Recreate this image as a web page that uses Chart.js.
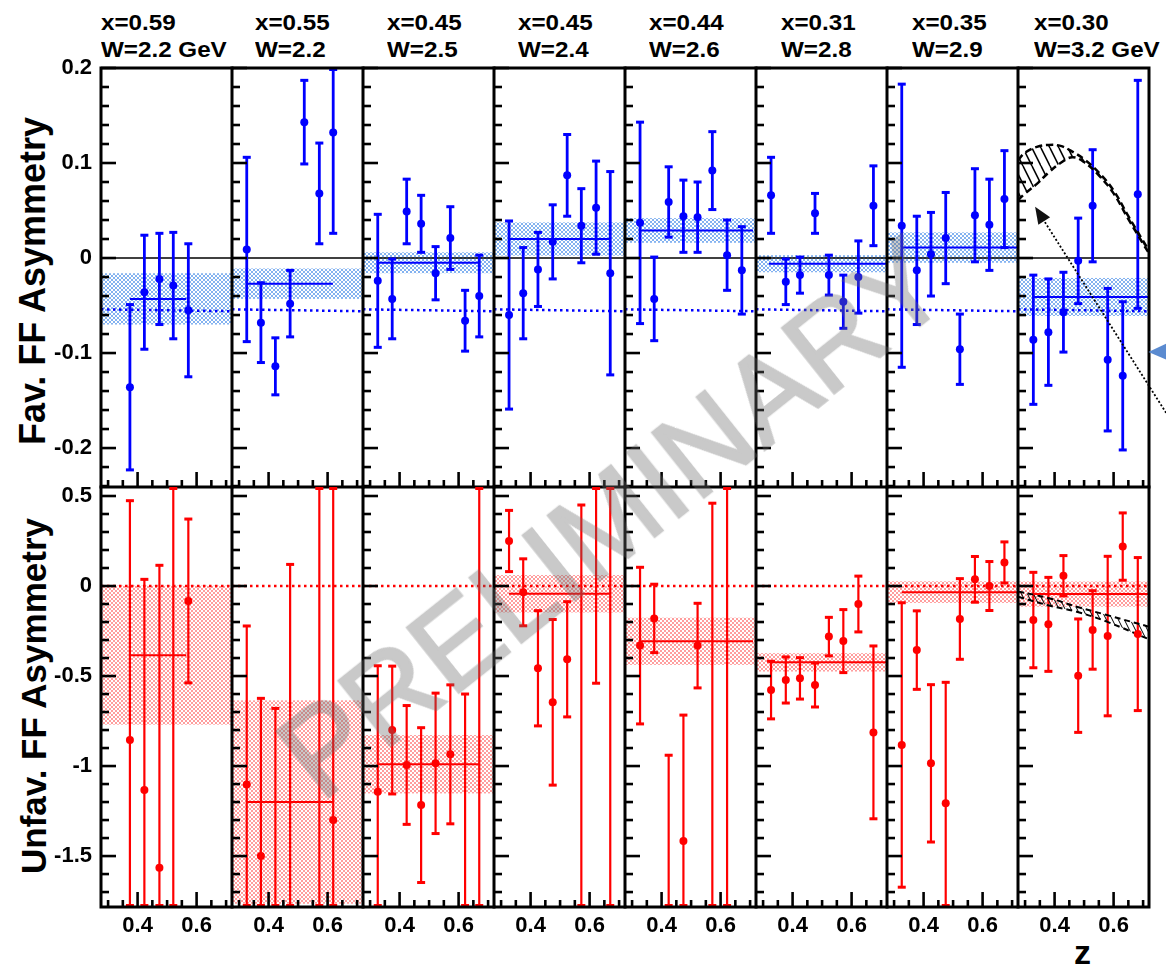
<!DOCTYPE html>
<html>
<head>
<meta charset="utf-8">
<title>Fav / Unfav FF Asymmetry</title>
<script src="https://cdn.jsdelivr.net/npm/chart.js@4.4.1/dist/chart.umd.min.js"></script>
<style>
  html,body{margin:0;padding:0;background:#fff;}
  body{position:relative;width:1166px;height:964px;overflow:hidden;font-family:"Liberation Sans",Arial,Helvetica,sans-serif;}
  canvas{position:absolute;display:block;}
  .hdr{position:absolute;font-weight:bold;font-size:22px;line-height:27px;white-space:nowrap;color:#000;transform:scaleX(1.1);transform-origin:0 0;}
  .ytitle{position:absolute;font-weight:bold;white-space:nowrap;line-height:1;color:#000;transform:translate(-50%,-50%) rotate(-90deg);}
  #ztitle{position:absolute;font-weight:bold;font-size:34px;line-height:1;color:#000;}
  #wm{position:absolute;font-size:120px;line-height:1;white-space:nowrap;color:rgb(105,105,105);-webkit-text-stroke:2.5px rgb(105,105,105);opacity:0.36;transform:translate(-50%,-50%) rotate(-38.5deg);z-index:10;pointer-events:none;}
</style>
</head>
<body>
<script>
// ---------------- data ----------------
const headerX = ['x=0.59','x=0.55','x=0.45','x=0.45','x=0.44','x=0.31','x=0.35','x=0.30'];
const headerW = ['W=2.2 GeV','W=2.2','W=2.5','W=2.4','W=2.6','W=2.8','W=2.9','W=3.2 GeV'];

const zRange = [0.276, 0.72];
const favRange = [-0.241, 0.2];
const unfRange = [-1.783, 0.55];
const zTicks = [0.4, 0.6];
const zTickLabels = ['0.4', '0.6'];
const favTicks = [-0.2, -0.1, 0, 0.1, 0.2];
const favTickLabels = ['-0.2', '-0.1', '0', '0.1', '0.2'];
const unfTicks = [-1.5, -1, -0.5, 0, 0.5];
const unfTickLabels = ['-1.5', '-1', '-0.5', '0', '0.5'];
const zMinorStep = 0.05, favMinorStep = 0.02, unfMinorStep = 0.1;

// favoured asymmetry (top row)
const favZ = [
  [0.374, 0.423, 0.474, 0.521, 0.572],
  [0.326, 0.374, 0.423, 0.473, 0.521, 0.572, 0.619],
  [0.326, 0.375, 0.424, 0.473, 0.522, 0.572, 0.622, 0.670],
  [0.327, 0.375, 0.425, 0.475, 0.524, 0.572, 0.622, 0.670],
  [0.327, 0.375, 0.424, 0.474, 0.522, 0.572, 0.622, 0.672],
  [0.327, 0.377, 0.425, 0.476, 0.523, 0.572, 0.623, 0.674],
  [0.326, 0.377, 0.425, 0.475, 0.523, 0.574, 0.623, 0.674],
  [0.328, 0.379, 0.430, 0.480, 0.529, 0.580, 0.631, 0.682]
];
const favVal = [
  [-0.136, -0.036, -0.022, -0.029, -0.055],
  [0.009, -0.068, -0.114, -0.048, 0.143, 0.068, 0.132],
  [-0.024, -0.043, 0.049, 0.036, -0.016, 0.021, -0.066, -0.040],
  [-0.060, -0.037, -0.012, 0.017, 0.087, 0.034, 0.053, -0.016],
  [0.037, -0.043, 0.059, 0.044, 0.043, 0.092, 0.003, -0.013],
  [0.066, -0.025, -0.018, 0.047, -0.018, -0.046, -0.020, 0.055],
  [0.034, -0.013, 0.004, 0.021, -0.096, 0.045, 0.035, 0.062],
  [-0.086, -0.078, -0.057, -0.003, 0.055, -0.107, -0.124, 0.067]
];
const favErr = [
  [0.087, 0.060, 0.048, 0.056, 0.070],
  [0.097, 0.042, 0.030, 0.035, 0.044, 0.053, 0.106],
  [0.070, 0.042, 0.034, 0.030, 0.028, 0.033, 0.032, 0.043],
  [0.099, 0.048, 0.039, 0.039, 0.043, 0.039, 0.049, 0.107],
  [0.106, 0.044, 0.037, 0.038, 0.037, 0.041, 0.037, 0.046],
  [0.040, 0.024, 0.019, 0.021, 0.021, 0.028, 0.038, 0.042],
  [0.149, 0.057, 0.044, 0.048, 0.037, 0.049, 0.048, 0.051],
  [0.068, 0.056, 0.042, 0.045, 0.059, 0.075, 0.078, 0.120]
];
// unfavoured asymmetry (bottom row)
const unfZ = [
  [0.374, 0.423, 0.474, 0.521, 0.572],
  [0.326, 0.374, 0.423, 0.473, 0.572, 0.619],
  [0.326, 0.375, 0.424, 0.473, 0.522, 0.572, 0.622, 0.670],
  [0.327, 0.375, 0.425, 0.475, 0.524, 0.572, 0.622, 0.670],
  [0.327, 0.375, 0.424, 0.474, 0.522, 0.572, 0.622],
  [0.327, 0.377, 0.425, 0.476, 0.523, 0.572, 0.623, 0.674],
  [0.326, 0.377, 0.425, 0.475, 0.523, 0.574, 0.623, 0.674],
  [0.328, 0.379, 0.430, 0.480, 0.529, 0.580, 0.631, 0.682]
];
const unfVal = [
  [-0.856, -1.133, -1.565, -2.10, -0.083],
  [-1.102, -1.500, -2.00, -1.95, -2.20, -1.30],
  [-1.143, -0.800, -0.994, -1.217, -0.985, -0.935, -1.95, -2.30],
  [0.250, -0.035, -0.457, -0.646, -0.407, -1.90, 0.80, -2.00],
  [-0.331, -0.180, -2.00, -1.417, -0.331, -1.90, -2.00],
  [-0.578, -0.522, -0.513, -0.550, -0.281, -0.306, -0.100, -0.813],
  [-0.883, -0.356, -0.985, -1.207, -0.183, 0.037, 0.000, 0.131],
  [-0.189, -0.213, 0.057, -0.498, -0.244, -0.278, 0.219, -0.267]
];
const unfErr = [
  [1.33, 1.17, 1.68, 2.90, 0.455],
  [0.88, 0.876, 1.32, 2.07, 3.00, 2.00],
  [0.70, 0.355, 0.33, 0.43, 0.39, 0.386, 1.35, 3.00],
  [0.17, 0.186, 0.32, 0.46, 0.32, 2.35, 1.34, 3.00],
  [0.435, 0.19, 1.06, 0.70, 0.235, 2.36, 3.00],
  [0.16, 0.128, 0.115, 0.122, 0.107, 0.175, 0.155, 0.48],
  [0.79, 0.218, 0.437, 0.672, 0.224, 0.127, 0.136, 0.114],
  [0.265, 0.261, 0.112, 0.315, 0.218, 0.443, 0.187, 0.425]
];
// constant fits and their uncertainty bands
const favFit = [-0.043, -0.027, -0.005, 0.020, 0.029, -0.006, 0.011, -0.041];
const favFitErr = [0.027, 0.016, 0.011, 0.0175, 0.013, 0.009, 0.016, 0.020];
const unfFit = [-0.384, -1.200, -0.990, -0.043, -0.307, -0.424, -0.034, -0.045];
const unfFitErr = [0.386, 0.565, 0.162, 0.104, 0.131, 0.051, 0.060, 0.070];
const fitLo = [0.374, 0.326, 0.326, 0.327, 0.327, 0.320, 0.326, 0.328];
const fitHi = [0.565, 0.618, 0.670, 0.670, 0.710, 0.720, 0.720, 0.720];
// model lines (values at the two ends of the z range)
const favModel = [-0.054, -0.056];
const unfModel = [0, 0];
// model curves drawn in the last column
const favCurveZ  = [0.276, 0.30, 0.34, 0.38, 0.42, 0.46, 0.50, 0.55, 0.60, 0.65, 0.70, 0.72];
const favCurveHi = [0.103, 0.111, 0.117, 0.119, 0.118, 0.112, 0.104, 0.090, 0.071, 0.044, 0.018, 0.008];
const favCurveLo = [0.061, 0.068, 0.078, 0.090, 0.100, 0.106, 0.101, 0.087, 0.068, 0.041, 0.015, 0.005];
const unfCurveZ  = [0.276, 0.385, 0.475, 0.577, 0.72];
const unfCurveHi = [-0.030, -0.069, -0.115, -0.161, -0.226];
const unfCurveLo = [-0.060, -0.110, -0.143, -0.198, -0.296];
// annotation arrows in the last column (z, asymmetry)
const arrowTail = [0.778, -0.163];
const arrowHead = [0.334, 0.054];
const blueArrowTip = [0.718, -0.099];

// ---------------- layout ----------------
const FONT = '"Liberation Sans", Arial, Helvetica, sans-serif';
const colLeft = [101, 232, 363, 494, 625, 756, 887, 1018];
const panelW = 131;
const rowTop = [68, 487], rowBottom = [487, 907];
const headerOffset = [0, 23, 24, 24, 24, 25, 25, 16];
const BLUE = '#0000ff', RED = '#ff0000';

headerX.forEach((t, c) => {
  const d = document.createElement('div');
  d.className = 'hdr';
  d.style.left = (colLeft[c] + headerOffset[c]) + 'px';
  d.style.top = '9px';
  d.innerHTML = t + '<br>' + headerW[c];
  document.body.appendChild(d);
});
function addYTitle(text, cx, cy, size) {
  const d = document.createElement('div');
  d.className = 'ytitle';
  d.style.fontSize = size + 'px';
  d.style.left = cx + 'px'; d.style.top = cy + 'px';
  d.textContent = text;
  document.body.appendChild(d);
}
addYTitle('Fav. FF Asymmetry', 33, 281, 36);
addYTitle('Unfav. FF Asymmetry', 33, 696, 35);
const zt = document.createElement('div');
zt.id = 'ztitle'; zt.textContent = 'z';
zt.style.left = '1074px'; zt.style.top = '935px';
document.body.appendChild(zt);

function makeCross(ctx, color) {
  const p = document.createElement('canvas'); p.width = 4; p.height = 4;
  const g = p.getContext('2d'); g.fillStyle = color;
  for (let i = 0; i < 4; i++) { g.fillRect(i, i, 1, 1); g.fillRect(3 - i, i, 1, 1); }
  return ctx.createPattern(p, 'repeat');
}
function makeHatch(ctx, w, h, lw) {
  const p = document.createElement('canvas'); p.width = w; p.height = h;
  const g = p.getContext('2d'); g.strokeStyle = '#000'; g.lineWidth = lw;
  for (const dx of [-w, 0, w]) { g.beginPath(); g.moveTo(dx, 0); g.lineTo(dx + w, h); g.stroke(); }
  return ctx.createPattern(p, 'repeat');
}

const panelPlugin = {
  id: 'panel',
  beforeDatasetsDraw(chart) {
    const o = chart.options.plugins.panel;
    const { ctx, chartArea: a } = chart;
    const x = chart.scales.x, y = chart.scales.y;
    ctx.save();
    ctx.beginPath(); ctx.rect(a.left, a.top, a.right - a.left, a.bottom - a.top); ctx.clip();
    // band
    const y1 = y.getPixelForValue(o.fit + o.fitErr), y2 = y.getPixelForValue(o.fit - o.fitErr);
    ctx.fillStyle = o.bandPattern;
    ctx.fillRect(a.left, y1, a.right - a.left, y2 - y1);
    // zero line
    if (o.zeroLine) {
      const y0 = y.getPixelForValue(0);
      ctx.strokeStyle = '#000'; ctx.lineWidth = 1.6;
      ctx.beginPath(); ctx.moveTo(a.left, y0); ctx.lineTo(a.right, y0); ctx.stroke();
    }
    // error bars
    ctx.strokeStyle = o.color; ctx.fillStyle = o.color; ctx.lineWidth = o.barWidth;
    o.z.forEach((zv, i) => {
      const hi = o.v[i] + o.e[i], lo = o.v[i] - o.e[i];
      if (hi < y.min || lo > y.max) return;
      const hc = Math.min(hi, y.max), lc = Math.max(lo, y.min);
      const px = x.getPixelForValue(zv);
      const pyh = y.getPixelForValue(hc), pyl = y.getPixelForValue(lc);
      ctx.beginPath(); ctx.moveTo(px, pyh); ctx.lineTo(px, pyl); ctx.stroke();
      const cw = 8, ct = 3;
      let ch = Math.max(pyh - ct / 2, a.top);
      ctx.fillRect(px - cw / 2, ch, cw, ct);
      let cl = Math.min(pyl - ct / 2, a.bottom - ct);
      ctx.fillRect(px - cw / 2, cl, cw, ct);
    });
    ctx.restore();
  },
  afterDraw(chart) {
    const o = chart.options.plugins.panel;
    const { ctx, chartArea: a } = chart;
    const x = chart.scales.x, y = chart.scales.y;
    ctx.save();
    ctx.strokeStyle = '#000'; ctx.fillStyle = '#000'; ctx.lineCap = 'butt';
    ctx.lineWidth = 2.6;
    // y ticks (inside, on the left edge)
    for (let k = Math.ceil(y.min / o.yMinor - 1e-6); k * o.yMinor <= y.max + 1e-9; k++) {
      const v = k * o.yMinor;
      const major = o.yTicks.some(t => Math.abs(t - v) < 1e-6);
      const py = y.getPixelForValue(v);
      ctx.beginPath(); ctx.moveTo(a.left, py); ctx.lineTo(a.left + (major ? 15 : 8), py); ctx.stroke();
    }
    // x ticks (inside, on the bottom edge)
    for (let k = Math.ceil(x.min / zMinorStep - 1e-6); k * zMinorStep <= x.max + 1e-9; k++) {
      const v = k * zMinorStep;
      const major = zTicks.some(t => Math.abs(t - v) < 1e-6);
      const px = x.getPixelForValue(v);
      ctx.beginPath(); ctx.moveTo(px, a.bottom); ctx.lineTo(px, a.bottom - (major ? 15 : 7)); ctx.stroke();
    }
    // frame
    ctx.lineWidth = 3;
    ctx.beginPath();
    ctx.moveTo(a.left, a.top - 1.5); ctx.lineTo(a.left, a.bottom + 1.5);
    ctx.moveTo(a.left - 1.5, a.bottom); ctx.lineTo(a.right + 1.5, a.bottom);
    if (o.row === 0) { ctx.moveTo(a.left - 1.5, a.top); ctx.lineTo(a.right + 1.5, a.top); }
    if (o.col === 7) { ctx.moveTo(a.right, a.top - 1.5); ctx.lineTo(a.right, a.bottom + 1.5); }
    ctx.stroke();
    // annotation arrows
    if (o.arrows) {
      const tx = x.getPixelForValue(arrowTail[0]), ty = y.getPixelForValue(arrowTail[1]);
      const hx = x.getPixelForValue(arrowHead[0]), hy = y.getPixelForValue(arrowHead[1]);
      const dx = hx - tx, dy = hy - ty, len = Math.hypot(dx, dy), ux = dx / len, uy = dy / len;
      ctx.setLineDash([2, 2]); ctx.lineWidth = 1.8;
      ctx.beginPath(); ctx.moveTo(tx, ty); ctx.lineTo(hx - ux * 12, hy - uy * 12); ctx.stroke();
      ctx.setLineDash([]);
      ctx.fillStyle = '#111';
      ctx.beginPath(); ctx.moveTo(hx, hy);
      ctx.lineTo(hx - ux * 17 - uy * 7, hy - uy * 17 + ux * 7);
      ctx.lineTo(hx - ux * 17 + uy * 7, hy - uy * 17 - ux * 7);
      ctx.closePath(); ctx.fill();
      const bx = x.getPixelForValue(blueArrowTip[0]), by = y.getPixelForValue(blueArrowTip[1]);
      ctx.fillStyle = '#5b8bd0';
      ctx.beginPath(); ctx.moveTo(bx, by); ctx.lineTo(bx + 19, by - 9); ctx.lineTo(bx + 19, by + 8); ctx.closePath(); ctx.fill();
    }
    ctx.restore();
  }
};

function zeroPad(s) { s.paddingTop = 0; s.paddingBottom = 0; s.paddingLeft = 0; s.paddingRight = 0; }

function makePanel(r, c) {
  const L = colLeft[c], R = L + panelW, T = rowTop[r], B = rowBottom[r];
  const cx0 = c === 0 ? 0 : L - 4;
  const cx1 = c === 7 ? 1166 : R + 4;
  const cy0 = r === 0 ? 40 : T - 4;
  const cy1 = r === 0 ? B + 4 : 964;
  const cv = document.createElement('canvas');
  cv.width = cx1 - cx0; cv.height = cy1 - cy0;
  cv.style.left = cx0 + 'px'; cv.style.top = cy0 + 'px';
  cv.style.width = (cx1 - cx0) + 'px'; cv.style.height = (cy1 - cy0) + 'px';
  document.body.appendChild(cv);
  const ctx = cv.getContext('2d');
  const top = r === 0;
  const color = top ? BLUE : RED;
  const Z = top ? favZ[c] : unfZ[c], V = top ? favVal[c] : unfVal[c], E = top ? favErr[c] : unfErr[c];
  const fit = top ? favFit[c] : unfFit[c], fitErr = top ? favFitErr[c] : unfFitErr[c];
  const model = top ? favModel : unfModel;
  const range = top ? favRange : unfRange;
  const yT = top ? favTicks : unfTicks, yL = top ? favTickLabels : unfTickLabels;
  const showX = r === 1, showY = c === 0;

  const datasets = [
    { type: 'line', data: [{ x: zRange[0], y: model[0] }, { x: zRange[1], y: model[1] }],
      borderColor: color, borderWidth: 2.5, borderDash: [2.5, 3.5], pointRadius: 0, fill: false },
    { type: 'line', data: [{ x: fitLo[c], y: fit }, { x: fitHi[c], y: fit }],
      borderColor: color, borderWidth: 2, pointRadius: 0, fill: false },
    { type: 'scatter', data: Z.map((z, i) => ({ x: z, y: V[i] })),
      pointRadius: 4, pointBackgroundColor: color, pointBorderWidth: 0, showLine: false }
  ];
  if (c === 7) {
    const cz = top ? favCurveZ : unfCurveZ, lo = top ? favCurveLo : unfCurveLo, hi = top ? favCurveHi : unfCurveHi;
    const hatch = top ? makeHatch(ctx, 9, 18, 1.6) : makeHatch(ctx, 6, 12, 1);
    datasets.push({ type: 'line', data: cz.map((z, i) => ({ x: z, y: lo[i] })), borderColor: '#000',
      borderWidth: top ? 2.5 : 2, borderDash: top ? [7, 4] : [6, 4], pointRadius: 0, tension: 0.4, fill: false });
    datasets.push({ type: 'line', data: cz.map((z, i) => ({ x: z, y: hi[i] })), borderColor: '#000',
      borderWidth: top ? 2.5 : 2, borderDash: top ? [7, 4] : [6, 4], pointRadius: 0, tension: 0.4,
      fill: '-1', backgroundColor: hatch });
  }
  const tickFont = { family: FONT, size: 22, weight: 'bold' };
  new Chart(cv, {
    type: 'scatter',
    data: { datasets },
    options: {
      responsive: false, animation: false, events: [], devicePixelRatio: 1,
      layout: { padding: { left: showY ? 0 : 4, right: c === 7 ? 1166 - R : 4, top: T - cy0, bottom: showX ? 0 : 4 } },
      plugins: {
        legend: { display: false }, tooltip: { enabled: false },
        panel: { row: r, col: c, z: Z, v: V, e: E, fit, fitErr, color,
          barWidth: top ? 2.8 : 2.2, zeroLine: top, yTicks: yT,
          yMinor: top ? favMinorStep : unfMinorStep,
          bandPattern: top ? makeCross(ctx, 'rgba(118,170,238,0.9)') : makeCross(ctx, 'rgba(255,140,140,0.85)'),
          arrows: (c === 7 && top) }
      },
      scales: {
        x: { type: 'linear', min: zRange[0], max: zRange[1], display: showX,
          afterBuildTicks: s => { s.ticks = zTicks.map(v => ({ value: v })); },
          afterFit: s => { if (showX) s.height = 964 - 907; zeroPad(s); },
          grid: { display: false, drawTicks: false }, border: { display: false },
          ticks: { autoSkip: false, maxRotation: 0, minRotation: 0, padding: 6, color: '#000', font: tickFont,
            callback: (v, i) => zTickLabels[i] } },
        y: { type: 'linear', min: range[0], max: range[1], display: showY,
          afterBuildTicks: s => { s.ticks = yT.map(v => ({ value: v })); },
          afterFit: s => { if (showY) s.width = 101; zeroPad(s); },
          grid: { display: false, drawTicks: false }, border: { display: false },
          ticks: { autoSkip: false, padding: 9, color: '#000', font: tickFont,
            callback: (v, i) => yL[i] } }
      }
    },
    plugins: [panelPlugin]
  });
}
for (let r = 0; r < 2; r++) for (let c = 0; c < 8; c++) makePanel(r, c);

const wm = document.createElement('div');
wm.id = 'wm'; wm.textContent = 'PRELIMINARY';
wm.style.left = '612px'; wm.style.top = '517px';
document.body.appendChild(wm);
</script>
</body>
</html>
